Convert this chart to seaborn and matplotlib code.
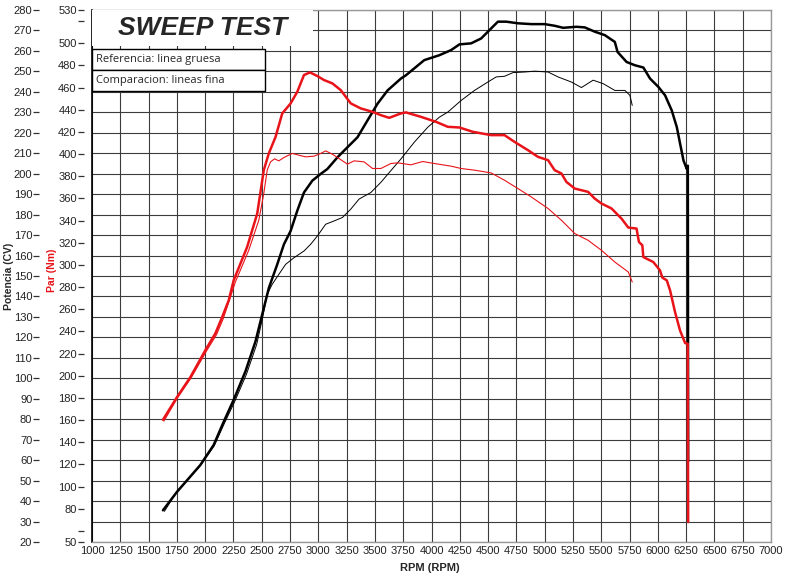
import numpy as np
import pandas as pd
import matplotlib
matplotlib.use("Agg")
import matplotlib.pyplot as plt
from matplotlib.patches import Rectangle
import seaborn as sns

# --- datos ---
# Potencia referencia (linea gruesa, CV)
rpm_pot_ref = [1627, 1751, 1957, 2075, 2164, 2252, 2356, 2445, 2504, 2563, 2637, 2696, 2755,
               2814, 2873, 2947, 3021, 3080, 3169, 3257, 3346, 3434, 3523, 3612, 3730, 3774,
               3936, 4069, 4173, 4247, 4350, 4439, 4527, 4587, 4660, 4764, 4882, 5000, 5088,
               5163, 5281, 5354, 5443, 5532, 5620, 5644, 5724, 5797, 5872, 5931, 6005, 6064,
               6123, 6168, 6197, 6227, 6256, 6265, 6268]
cv_pot_ref = [35.5, 44.5, 57.6, 67.4, 78.8, 89.5, 103.4, 118.1, 131.2, 144.2, 155.7, 165.5, 172.0,
              181.9, 190.8, 196.6, 199.9, 202.3, 208.0, 212.9, 217.8, 226.0, 234.2, 240.7, 246.5, 248.1,
              255.5, 257.9, 260.4, 263.2, 263.7, 266.1, 271.0, 274.3, 274.3, 273.5, 273.1, 273.1, 272.3,
              271.3, 271.8, 271.5, 269.4, 267.7, 264.4, 259.5, 254.6, 253.0, 251.9, 246.5, 242.4, 238.3,
              230.9, 222.7, 214.6, 206.4, 202.3, 203.9, 59.5]

# Potencia comparacion (linea fina, CV)
rpm_pot_cmp = [1640, 1751, 1960, 2080, 2170, 2260, 2365, 2455, 2504, 2548, 2592, 2651, 2711,
               2784, 2873, 2932, 2992, 3065, 3139, 3213, 3287, 3360, 3464, 3553, 3641, 3730,
               3848, 3967, 4069, 4144, 4262, 4380, 4498, 4572, 4645, 4720, 4822, 4911, 5030,
               5118, 5236, 5325, 5428, 5517, 5620, 5709, 5753, 5774]
cv_pot_cmp = [35.0, 44.8, 57.5, 67.0, 78.0, 88.5, 102.0, 116.5, 128.7, 141.0, 145.9, 150.8, 155.7,
              158.9, 162.2, 165.5, 169.6, 175.3, 176.9, 178.6, 182.7, 187.6, 190.8, 195.8, 201.5, 207.2,
              215.4, 222.7, 227.6, 230.1, 235.8, 240.7, 244.8, 247.3, 247.6, 249.4, 249.7, 250.1, 249.7,
              247.3, 244.8, 242.1, 245.7, 244.0, 240.7, 240.7, 238.3, 233.4]

# Par referencia (linea gruesa, Nm)
rpm_par_ref = [1627, 1751, 1869, 2001, 2090, 2150, 2208, 2252, 2371, 2460, 2518, 2563, 2622,
               2681, 2755, 2814, 2873, 2926, 2992, 3050, 3124, 3198, 3287, 3375, 3479, 3553,
               3626, 3730, 3774, 3907, 4040, 4144, 4247, 4365, 4527, 4645, 4734, 4853, 4941,
               5030, 5088, 5148, 5192, 5266, 5384, 5442, 5502, 5591, 5679, 5739, 5812, 5833,
               5863, 5872, 5960, 6019, 6040, 6079, 6108, 6152, 6196, 6241, 6264, 6268]
nm_par_ref = [160.3, 180.7, 198.7, 222.9, 238.2, 252.9, 268.0, 286.1, 316.2, 346.3, 385.5, 400.8, 415.5,
              436.7, 445.7, 456.2, 471.3, 473.7, 470.4, 466.8, 463.8, 457.7, 445.7, 441.2, 438.1, 435.1,
              432.7, 436.7, 437.6, 433.6, 429.1, 424.6, 424.0, 420.1, 417.1, 417.1, 411.0, 403.5, 397.5,
              394.5, 385.5, 382.5, 374.9, 368.9, 365.9, 359.9, 355.4, 350.9, 341.8, 333.7, 332.8, 320.7,
              317.7, 307.1, 302.6, 295.1, 288.5, 286.1, 277.1, 257.5, 240.9, 229.5, 228.9, 68.0]

# Par comparacion (linea fina, Nm)
rpm_par_cmp = [1635, 1755, 1875, 2010, 2100, 2160, 2267, 2385, 2474, 2518, 2548, 2578, 2613,
               2651, 2696, 2770, 2828, 2888, 2961, 3021, 3065, 3124, 3183, 3257, 3316, 3404,
               3479, 3553, 3641, 3701, 3818, 3922, 4025, 4173, 4262, 4380, 4527, 4645, 4764,
               4882, 5030, 5148, 5266, 5384, 5502, 5620, 5739, 5774]
nm_par_cmp = [159.0, 180.0, 198.0, 222.0, 237.0, 251.5, 284.6, 313.2, 340.3, 364.4, 385.5, 393.0, 395.7,
              393.9, 396.9, 400.6, 399.0, 397.5, 398.1, 400.6, 402.9, 399.9, 396.0, 390.9, 393.9, 393.0,
              387.0, 387.0, 391.5, 392.1, 390.3, 393.3, 391.5, 389.1, 387.0, 385.5, 383.0, 376.4, 368.9,
              361.3, 350.9, 340.3, 328.3, 322.2, 313.2, 302.6, 293.6, 284.6]

rpm_ticks = list(range(1000, 7001, 250))
cv_ticks = list(range(20, 281, 10))
nm_ticks = [50, 60] + list(range(80, 501, 20)) + [520, 530]
nm_labels = ["" if t in (60, 520) else str(t) for t in nm_ticks]

titulo = "SWEEP TEST"
leyenda = ["Referencia: linea gruesa", "Comparacion: lineas fina"]

# --- estilo ---
sns.set_style("white")
plt.rcParams["font.family"] = ["Liberation Sans", "DejaVu Sans"]
plt.rcParams["lines.solid_joinstyle"] = "round"
plt.rcParams["lines.solid_capstyle"] = "round"
narrow = ["Liberation Sans Narrow", "Liberation Sans", "DejaVu Sans"]
rojo = "#e8141a"

fig = plt.figure(figsize=(7.86, 5.82), dpi=100)
ax = fig.add_axes([92 / 786, 1 - 542 / 582, 679 / 786, 532 / 582])
ax2 = ax.twinx()   # par
ax3 = ax.twinx()   # etiquetas de potencia

# potencia
sns.lineplot(x=rpm_pot_ref, y=cv_pot_ref, ax=ax, sort=False, estimator=None, color="black", lw=1.8)
sns.lineplot(x=rpm_pot_cmp, y=cv_pot_cmp, ax=ax, sort=False, estimator=None, color="black", lw=0.7)
# par
sns.lineplot(x=rpm_par_ref, y=nm_par_ref, ax=ax2, sort=False, estimator=None, color=rojo, lw=1.8)
sns.lineplot(x=rpm_par_cmp, y=nm_par_cmp, ax=ax2, sort=False, estimator=None, color=rojo, lw=0.8)

ax.set_xlim(1000, 7000)
ax.set_ylim(20, 280)
ax2.set_ylim(50, 530)
ax3.set_ylim(20, 280)

# rejilla
ax.set_xticks(rpm_ticks)
ax.set_xticklabels([str(t) for t in rpm_ticks], family=narrow, fontsize=8, color="#222")
ax.set_yticks(cv_ticks)
ax.set_yticklabels([])
ax.grid(True, which="major", axis="both", color="#3c3c3c", lw=0.8)
ax.tick_params(axis="x", length=0, pad=3)
ax.tick_params(axis="y", length=0, left=False, labelleft=False)
for s in ["top", "right", "bottom"]:
    ax.spines[s].set_color("#999999")
    ax.spines[s].set_linewidth(1.0)
ax.spines["left"].set_color("black")
ax.spines["left"].set_linewidth(1.2)

# eje par a la izquierda
ax2.yaxis.set_ticks_position("left")
ax2.spines["left"].set_position(("outward", 6))
for s in ax2.spines.values():
    s.set_visible(False)
ax2.set_yticks(nm_ticks)
ax2.set_yticklabels(nm_labels, family=narrow, fontsize=8, color="#222")
ax2.tick_params(axis="y", length=4, width=0.9, color="#333", pad=1, direction="out")
ax2.set_ylabel("")

# eje potencia mas a la izquierda
ax3.yaxis.set_ticks_position("left")
ax3.spines["left"].set_position(("outward", 38))
for s in ax3.spines.values():
    s.set_visible(False)
ax3.set_yticks(cv_ticks)
ax3.set_yticklabels([str(t) for t in cv_ticks], family=narrow, fontsize=8, color="#222")
ax3.tick_params(axis="y", length=4, width=0.9, color="#333", pad=1, direction="out")
ax3.tick_params(axis="x", length=0)
ax3.set_ylabel("")
ax.set_ylabel("")

# titulo y recuadros
ax3.add_patch(Rectangle((0, 0.932), 0.326, 0.068, transform=ax3.transAxes,
                        facecolor="white", edgecolor="none", zorder=5))
ax3.text(0.038, 0.967, titulo, transform=ax3.transAxes, fontsize=19, fontweight="bold",
         fontstyle="italic", va="center", ha="left", zorder=6)
for i, txt in enumerate(leyenda):
    y0 = 0.887 - i * 0.040
    ax3.add_patch(Rectangle((0, y0), 0.255, 0.040, transform=ax3.transAxes,
                            facecolor="white", edgecolor="black", lw=1.0, zorder=5))
    ax3.text(0.006, y0 + 0.020, txt, transform=ax3.transAxes, fontsize=8,
             family=["Open Sans", "DejaVu Sans"], va="center", ha="left", zorder=6)

# etiquetas de ejes
fig.text(430 / 786, 1 - 568 / 582, "RPM (RPM)", ha="center", va="center",
         fontsize=8, fontweight="bold", family=narrow)
fig.text(9 / 786, 1 - 276 / 582, "Potencia (CV)", rotation=90, ha="center", va="center",
         fontsize=7.5, fontweight="bold")
fig.text(52 / 786, 1 - 270 / 582, "Par (Nm)", rotation=90, ha="center", va="center",
         fontsize=7.5, fontweight="bold", color=rojo)

fig.savefig("out.png", dpi=100)
